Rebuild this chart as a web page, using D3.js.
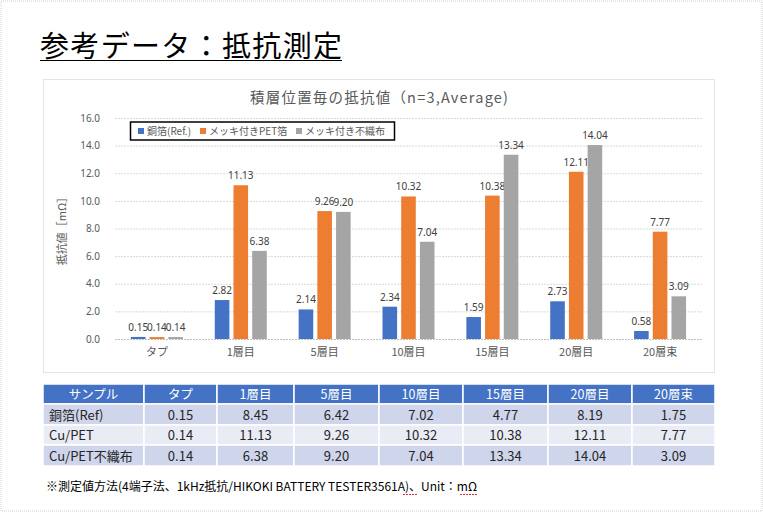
<!DOCTYPE html>
<html>
<head>
<meta charset="utf-8">
<script src="https://cdn.jsdelivr.net/npm/d3@7"></script>
<style>
  body { margin: 0; background: #fff; }
  text { font-family: "Noto Sans CJK JP", "Noto Sans", sans-serif; }
</style>
</head>
<body>
<div id="chart-area"></div>
<script>
// chart data
var categories = ["タプ", "1層目", "5層目", "10層目", "15層目", "20層目", "20層束"];
var seriesNames = ["銅箔(Ref.)", "メッキ付きPET箔", "メッキ付き不織布"];
var refValues = [0.15, 2.82, 2.14, 2.34, 1.59, 2.73, 0.58];
var petValues = [0.14, 11.13, 9.26, 10.32, 10.38, 12.11, 7.77];
var clothValues = [0.14, 6.38, 9.20, 7.04, 13.34, 14.04, 3.09];
var yTicks = [0, 2, 4, 6, 8, 10, 12, 14, 16];

// table data
var tableHeader = ["サンプル", "タプ", "1層目", "5層目", "10層目", "15層目", "20層目", "20層束"];
var tableRowNames = ["銅箔(Ref)", "Cu/PET", "Cu/PET不織布"];
var tableRef = ["0.15", "8.45", "6.42", "7.02", "4.77", "8.19", "1.75"];
var tablePet = ["0.14", "11.13", "9.26", "10.32", "10.38", "12.11", "7.77"];
var tableCloth = ["0.14", "6.38", "9.20", "7.04", "13.34", "14.04", "3.09"];

var colors = ["#4472C4", "#ED7D31", "#A5A5A5"];
var series = [refValues, petValues, clothValues];

var W = 763, H = 512;
var svg = d3.select("#chart-area").append("svg")
    .attr("width", W).attr("height", H);

// page border
svg.append("rect").attr("x", 1).attr("y", 1).attr("width", W - 2).attr("height", H - 2)
    .attr("fill", "none").attr("stroke", "#d0d0d0").attr("stroke-dasharray", "1,1");

// slide title
svg.append("text").attr("x", 40).attr("y", 57)
    .attr("font-size", 29).attr("fill", "#000")
    .attr("textLength", 302).attr("lengthAdjust", "spacing")
    .text("参考データ：抵抗測定");
svg.append("line").attr("x1", 40).attr("x2", 342).attr("y1", 60.5).attr("y2", 60.5)
    .attr("stroke", "#000").attr("stroke-width", 1.2);

// chart frame
svg.append("rect").attr("x", 43.5).attr("y", 79.5).attr("width", 671).attr("height", 293)
    .attr("fill", "#fff").attr("stroke", "#c8c8c8").attr("stroke-dasharray", "1,1");

svg.append("text").attr("x", 250).attr("y", 103)
    .attr("font-size", 14.5).attr("fill", "#595959")
    .attr("textLength", 258).attr("lengthAdjust", "spacing")
    .text("積層位置毎の抵抗値（n=3,Average)");

var margin = {top: 118, left: 115, right: 702, bottom: 339};

var x0 = d3.scaleBand().domain(categories).range([margin.left, margin.right])
    .paddingInner(0.38).paddingOuter(0.19);
var x1 = d3.scaleBand().domain(d3.range(series.length)).range([0, x0.bandwidth()])
    .paddingInner(0.22);
var y = d3.scaleLinear().domain([0, 16]).range([margin.bottom, margin.top]);

// gridlines
svg.append("g").selectAll("line").data(yTicks).enter().append("line")
    .attr("x1", margin.left).attr("x2", margin.right)
    .attr("y1", function(d) { return y(d) + 0.5; })
    .attr("y2", function(d) { return y(d) + 0.5; })
    .attr("stroke", function(d) { return d === 0 ? "#bfbfbf" : "#d9d9d9"; })
    .attr("stroke-dasharray", "2,1");

// y axis
var yAxisEl = svg.append("g").attr("transform", "translate(" + (margin.left - 12) + ",0)")
    .call(d3.axisLeft(y).tickValues(yTicks).tickFormat(d3.format(".1f")).tickSize(0));
yAxisEl.select(".domain").remove();
yAxisEl.selectAll("text").attr("font-size", 10).attr("fill", "#595959")
    .style("font-family", "'Noto Sans', sans-serif");

// x axis
var xAxisEl = svg.append("g").attr("transform", "translate(0," + (margin.bottom + 6) + ")")
    .call(d3.axisBottom(x0).tickSize(0));
xAxisEl.select(".domain").remove();
xAxisEl.selectAll("text").attr("font-size", 11).attr("fill", "#595959");

// axis title
svg.append("text").attr("transform", "translate(66," + ((margin.top + margin.bottom) / 2) + ") rotate(-90)")
    .attr("text-anchor", "middle").attr("font-size", 11).attr("fill", "#595959")
    .text("抵抗値［mΩ］");

// bars
var groups = svg.append("g").selectAll("g").data(series).enter().append("g")
    .attr("fill", function(d, i) { return colors[i]; });

groups.each(function(vals, si) {
  var g = d3.select(this);
  g.selectAll("rect").data(vals).enter().append("rect")
      .attr("x", function(d, i) { return x0(categories[i]) + x1(si); })
      .attr("y", function(d) { return y(d); })
      .attr("width", x1.bandwidth())
      .attr("height", function(d) { return y(0) - y(d); });
  g.selectAll("text").data(vals).enter().append("text")
      .attr("x", function(d, i) { return x0(categories[i]) + x1(si) + x1.bandwidth() / 2; })
      .attr("y", function(d) { return y(d) - 6; })
      .attr("text-anchor", "middle").attr("font-size", 10).attr("fill", "#404040")
      .style("font-family", "'Noto Sans', sans-serif")
      .text(function(d) { return d3.format(".2f")(d); });
});

// legend
var legend = svg.append("g");
legend.append("rect").attr("x", 130.5).attr("y", 122).attr("width", 264).attr("height", 18)
    .attr("fill", "#fff").attr("stroke", "#000").attr("stroke-width", 1.5);
var legendX = [138, 200, 296];
seriesNames.forEach(function(name, i) {
  legend.append("rect").attr("x", legendX[i]).attr("y", 128).attr("width", 6).attr("height", 6)
      .attr("fill", colors[i]);
  legend.append("text").attr("x", legendX[i] + 9).attr("y", 135)
      .attr("font-size", 10).attr("fill", "#595959").text(name);
});

// table
var colEdges = [43, 144, 217, 294, 379, 463, 548, 632, 715];
var rowEdges = [384, 404, 425, 445, 466];
var rowFills = ["#4472C4", "#CFD5EA", "#E9EBF5", "#CFD5EA"];
var tableRows = [tableHeader,
  [tableRowNames[0]].concat(tableRef),
  [tableRowNames[1]].concat(tablePet),
  [tableRowNames[2]].concat(tableCloth)];

var tbl = svg.append("g");
tableRows.forEach(function(row, r) {
  row.forEach(function(cell, c) {
    tbl.append("rect").attr("x", colEdges[c]).attr("y", rowEdges[r])
        .attr("width", colEdges[c + 1] - colEdges[c]).attr("height", rowEdges[r + 1] - rowEdges[r])
        .attr("fill", rowFills[r]).attr("stroke", "#fff").attr("stroke-width", 1.5);
    var left = (c === 0 && r > 0);
    tbl.append("text")
        .attr("x", left ? colEdges[c] + 6 : (colEdges[c] + colEdges[c + 1]) / 2)
        .attr("y", (rowEdges[r] + rowEdges[r + 1]) / 2 + 5)
        .attr("text-anchor", left ? "start" : "middle")
        .attr("font-size", r === 0 ? 12.5 : 13)
        .attr("fill", r === 0 ? "#fff" : "#262626")
        .text(cell);
  });
});

// footnote
var note = svg.append("text").attr("x", 46).attr("y", 491).attr("font-size", 12).attr("fill", "#000")
    .attr("textLength", 431).attr("lengthAdjust", "spacing")
    .text("※測定値方法(4端子法、1kHz抵抗/HIKOKI BATTERY TESTER3561A)、Unit：mΩ");
svg.append("line").attr("x1", 403).attr("x2", 418).attr("y1", 494.5).attr("y2", 494.5)
    .attr("stroke", "#e03030").attr("stroke-dasharray", "2,1");
svg.append("line").attr("x1", 460).attr("x2", 477).attr("y1", 494.5).attr("y2", 494.5)
    .attr("stroke", "#e03030").attr("stroke-dasharray", "2,1");
</script>
</body>
</html>
